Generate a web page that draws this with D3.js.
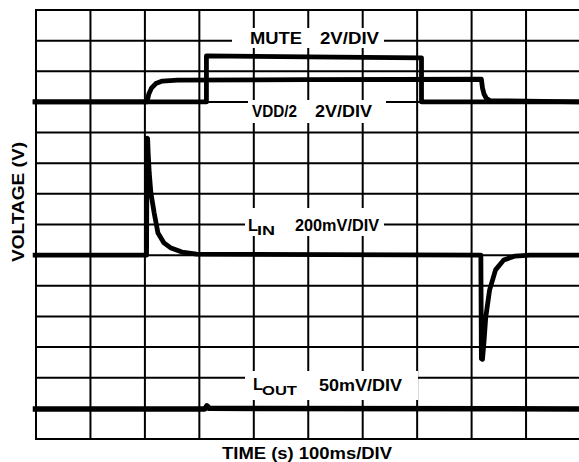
<!DOCTYPE html>
<html>
<head>
<meta charset="utf-8">
<script src="https://cdn.jsdelivr.net/npm/d3@7"></script>
<style>
    body { margin: 0; background: #fff; }
    svg { display: block; }
    text { font-family: "Liberation Sans", Arial, sans-serif; font-weight: bold; fill: #000; }
</style>
</head>
<body>
<svg id="scope" width="579" height="462"></svg>
<script>
(function () {
    'use strict';

    // time in divisions (100ms/div), level in divisions counted up from the bottom of the screen
    var muteTime  = [-0.06, 3.13, 3.13, 5.00, 7.08, 7.08, 10.0];
    var muteLevel = [11.0, 11.0, 12.50, 12.47, 12.44, 11.0, 11.0];

    var vddTime  = [-0.06, 2.04, 2.07, 2.12, 2.20, 2.32, 2.60, 5.00, 8.18, 8.20, 8.23, 8.27, 8.34, 10.0];
    var vddLevel = [11.0, 11.0, 11.25, 11.45, 11.60, 11.68, 11.71, 11.73, 11.74, 11.45, 11.25, 11.12, 11.04, 11.0];

    var linTime  = [-0.06, 2.03, 2.04, 2.05, 2.06, 2.08, 2.11, 2.17, 2.24, 2.35, 2.48, 2.68, 2.95,
                    8.17, 8.18, 8.20, 8.23, 8.26, 8.33, 8.44, 8.59, 8.80, 9.07, 10.0];
    var linLevel = [6.0, 6.0, 9.82, 9.80, 9.33, 8.68, 8.03, 7.38, 6.72, 6.40, 6.23, 6.10, 6.03,
                    6.0, 2.62, 2.60, 3.23, 3.98, 4.86, 5.52, 5.84, 5.97, 6.0, 6.0];

    var loutTime  = [-0.06, 3.10, 3.14, 3.18, 10.0];
    var loutLevel = [0.98, 0.98, 1.08, 1.0, 0.98];

    var gridCols = d3.range(0, 10);
    var gridRows = d3.range(0, 15);

    var svg = d3.select("svg#scope");
    var x = d3.scaleLinear().domain([0, 10]).range([36, 580.5]);
    var y = d3.scaleLinear().domain([0, 14]).range([439, 10]);

    drawGrid();
    drawMasks();
    drawTraces();
    drawLabels();

    function drawGrid() {
        var g = svg.append("g").attr("class", "grid");

        g.selectAll(".vline")
            .data(gridCols)
            .enter().append("line")
            .attr("class", "vline")
            .attr("x1", function (d) { return x(d); })
            .attr("x2", function (d) { return x(d); })
            .attr("y1", y(14))
            .attr("y2", y(0))
            .attr("stroke", "#000")
            .attr("stroke-width", 2);

        g.selectAll(".hline")
            .data(gridRows)
            .enter().append("line")
            .attr("class", "hline")
            .attr("x1", x(0) - 1)
            .attr("x2", 579)
            .attr("y1", function (d) { return y(d); })
            .attr("y2", function (d) { return y(d); })
            .attr("stroke", "#000")
            .attr("stroke-width", 2);
    }

    // white patches behind the channel captions, they break the graticule
    function drawMasks() {
        var boxes = [
            [232, 28, 152, 20],
            [248, 100, 138, 23],
            [245, 208, 139, 28],
            [245, 371, 173, 29]
        ];
        svg.append("g").selectAll("rect")
            .data(boxes)
            .enter().append("rect")
            .attr("x", function (d) { return d[0]; })
            .attr("y", function (d) { return d[1]; })
            .attr("width", function (d) { return d[2]; })
            .attr("height", function (d) { return d[3]; })
            .attr("fill", "#fff");
    }

    function drawTraces() {
        var line = d3.line()
            .x(function (d) { return x(d.t); })
            .y(function (d) { return y(d.v); });

        var traces = [
            {id: "vdd", t: vddTime, v: vddLevel},
            {id: "mute", t: muteTime, v: muteLevel},
            {id: "lin", t: linTime, v: linLevel},
            {id: "lout", t: loutTime, v: loutLevel}
        ].map(function (c) {
            return {
                id: c.id,
                values: c.t.map(function (t, i) { return {t: t, v: c.v[i]}; })
            };
        });

        svg.append("g").selectAll("path")
            .data(traces)
            .enter().append("path")
            .attr("class", function (d) { return "trace " + d.id; })
            .attr("d", function (d) { return line(d.values); })
            .attr("fill", "none")
            .attr("stroke", "#000")
            .attr("stroke-width", function (d) { return d.id === "lout" ? 5.5 : 4.8; })
            .attr("stroke-linejoin", "round");
    }

    function drawLabels() {
        var labels = [
            {text: "MUTE", x: 250, y: 44, size: 16.5, len: 52},
            {text: "2V/DIV", x: 320, y: 44, size: 16.5, len: 59},
            {text: "VDD/2", x: 252, y: 116.5, size: 16.5, len: 45},
            {text: "2V/DIV", x: 315, y: 116.5, size: 16.5, len: 57},
            {text: "L", x: 248, y: 230.5, size: 16.5, len: 10},
            {text: "IN", x: 257, y: 235, size: 12.5, len: 18},
            {text: "200mV/DIV", x: 295, y: 230.5, size: 16.5, len: 84},
            {text: "L", x: 253, y: 390, size: 16.5, len: 10},
            {text: "OUT", x: 262, y: 394.5, size: 12.5, len: 35},
            {text: "50mV/DIV", x: 319, y: 390.5, size: 16.5, len: 83},
            {text: "TIME (s) 100ms/DIV", x: 222, y: 459, size: 16.5, len: 170}
        ];

        svg.append("g").selectAll("text")
            .data(labels)
            .enter().append("text")
            .attr("x", function (d) { return d.x; })
            .attr("y", function (d) { return d.y; })
            .attr("textLength", function (d) { return d.len; })
            .attr("lengthAdjust", "spacingAndGlyphs")
            .style("font-size", function (d) { return d.size + "px"; })
            .text(function (d) { return d.text; });

        svg.append("text")
            .attr("transform", "translate(24,202) rotate(-90)")
            .attr("text-anchor", "middle")
            .attr("textLength", 120)
            .attr("lengthAdjust", "spacingAndGlyphs")
            .style("font-size", "16.5px")
            .text("VOLTAGE (V)");
    }
})();
</script>
</body>
</html>
